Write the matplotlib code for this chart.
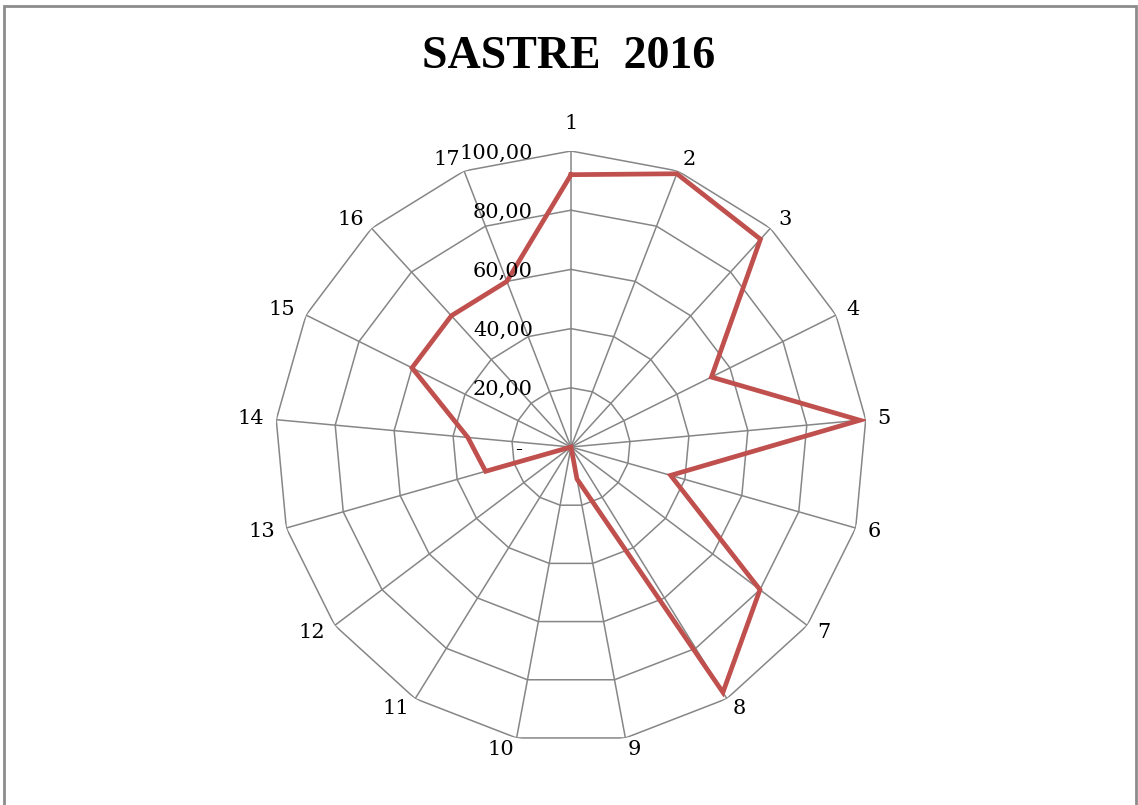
import numpy as np
import matplotlib.pyplot as plt
from matplotlib.patches import Rectangle

categories = [str(i) for i in range(1, 18)]
values = [92, 99, 95, 53, 98, 35, 80, 97.5, 11, 0, 0, 0, 30, 35, 60, 60, 60]
levels = [0, 20, 40, 60, 80, 100]
level_labels = ["-", "20,00", "40,00", "60,00", "80,00", "100,00"]

grid_color = "#868686"
line_color = "#C0504D"

fig = plt.figure(figsize=(11.38, 8.05), dpi=100)

# chart border (bottom edge falls off the picture)
fig.add_artist(Rectangle((4 / 1138, -0.01), 1132 / 1138, 1 - 6 / 805 + 0.01,
                         transform=fig.transFigure, fill=False,
                         edgecolor="#8c8c8c", linewidth=2))

cx, cy, R = 571 / 1138, 1 - 447 / 805, 296
ax = fig.add_axes([cx - R / 1138, cy - R / 805, 2 * R / 1138, 2 * R / 805],
                  projection="polar")
ax.set_theta_zero_location("N")
ax.set_theta_direction(-1)
ax.set_ylim(0, 100)
ax.grid(False)
ax.spines["polar"].set_visible(False)
ax.set_xticks([])
ax.set_yticks([])
ax.patch.set_visible(False)

n = len(categories)
angles = np.arange(n) * 2 * np.pi / n
closed = np.append(angles, angles[0])

# polygon grid
for lv in levels[1:]:
    ax.plot(closed, [lv] * (n + 1), color=grid_color, lw=1.1, zorder=1)
for a in angles:
    ax.plot([a, a], [0, 100], color=grid_color, lw=1.1, zorder=1)

# data
ax.plot(closed, values + [values[0]], color=line_color, lw=3.4, zorder=3,
        solid_joinstyle="miter")

# category labels, pushed sideways by half their width like Excel does
for a, lab in zip(angles, categories):
    s, c = np.sin(a), np.cos(a)
    half_w = 6.6 * len(lab)
    if abs(s) < 0.05:
        dx, dy = 0, c * 27
    else:
        dx, dy = np.sign(s) * half_w + s * 12, c * 12
    ax.annotate(lab, xy=(a, 100), xytext=(dx * 0.72, dy * 0.72),
                textcoords="offset points", ha="center", va="center",
                fontsize=15, family="DejaVu Serif", annotation_clip=False)

# radial value labels
for lv, lab in zip(levels, level_labels):
    dx = -49 if lv == 0 else -38
    ax.annotate(lab, xy=(0, lv), xytext=(dx * 0.72, -1.5),
                textcoords="offset points", ha="right", va="center",
                fontsize=15, family="DejaVu Serif", annotation_clip=False)

fig.text(0.5, 1 - 57 / 805, "SASTRE  2016", ha="center", va="center",
         fontsize=33, fontweight="bold", family="Liberation Serif")

fig.savefig("out.png", dpi=100)
